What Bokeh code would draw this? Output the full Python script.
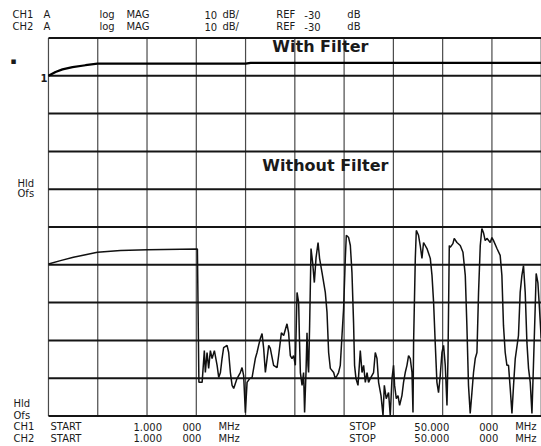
from bokeh.plotting import figure
from bokeh.models import Label, Range1d
from bokeh.embed import file_html
from bokeh.resources import INLINE

# ---------------- data (frequency in MHz, level in dB on the display scale) -------------
freq_ch1 = [1.0, 1.70, 2.39, 3.39, 4.68, 5.87, 7.16, 11.1, 20.6, 21.1, 50.0]
db_ch1 = [-30.0, -29.0, -28.3, -27.7, -27.2, -26.8, -26.8, -26.8, -26.8, -26.6, -26.6]

freq_ch2 = [
    1.0, 2.19, 3.48, 5.87, 8.16, 10.84, 15.81,
    15.96, 16.28, 16.50, 16.60, 16.77, 16.93, 17.10, 17.27, 17.50, 17.77, 17.93, 18.10,
    18.26, 18.42, 18.76, 18.92, 19.09, 19.26, 19.42, 19.75, 20.08, 20.25, 20.41, 20.58,
    20.75, 21.01, 21.25, 21.57, 21.74, 21.90, 22.07, 22.24, 22.40, 22.57, 22.74, 22.90,
    23.06, 23.39, 23.73, 23.89, 24.16, 24.39, 24.72, 24.88, 25.05, 25.22, 25.38, 25.55,
    25.72, 25.88, 25.95, 26.05, 26.22, 26.37, 26.47, 26.61, 26.71, 26.81, 26.87, 26.97,
    27.11, 27.27, 27.44, 27.61, 27.81, 27.96, 28.20, 28.53, 28.70, 28.86, 29.03, 29.36,
    29.52, 29.69, 29.85, 30.02, 30.19, 30.35, 30.52, 30.62, 30.85, 31.02, 31.18, 31.34,
    31.44, 31.58, 31.78, 32.01, 32.18, 32.34, 32.51, 32.68, 32.83, 33.00, 33.33, 33.50,
    33.67, 33.83, 34.07, 34.27, 34.40, 34.59, 34.82, 34.99, 35.16, 35.32, 35.42, 35.59,
    35.76, 35.92, 36.15, 36.31, 36.48, 36.65, 36.81, 36.98, 37.15, 37.25, 37.31, 37.48,
    37.58, 37.80, 37.97, 38.14, 38.30, 38.64, 38.97, 39.14, 39.30, 39.46, 39.63, 39.79,
    39.96, 40.13, 40.29, 40.46, 40.63, 40.73, 40.86, 40.95, 41.22, 41.35, 41.62, 41.95,
    42.22, 42.45, 42.61, 42.77, 42.94, 43.11, 43.27, 43.44, 43.61, 43.77, 43.94, 44.10,
    44.26, 44.43, 44.60, 44.93, 45.10, 45.26, 45.60, 45.92, 46.09, 46.25, 46.42, 46.59,
    46.75, 46.92, 47.09, 47.25, 47.42, 47.74, 47.91, 48.08, 48.24, 48.41, 48.58, 48.74,
    48.91, 49.08, 49.23, 49.40, 49.50, 49.67, 49.83, 50.00,
]
db_ch2 = [
    -79.8, -78.9, -78.0, -76.7, -76.2, -76.0, -75.8,
    -111.1, -111.1, -102.7, -108.5, -103.2, -107.4, -102.7, -104.8, -102.7, -106.6, -109.8, -108.5,
    -104.8, -101.9, -101.3, -103.2, -108.5, -111.9, -112.7, -110.1, -108.5, -107.2, -109.3, -119.1,
    -111.1, -110.1, -109.8, -104.8, -103.2, -101.3, -99.5, -98.2, -102.1, -108.5, -104.8, -101.3,
    -102.1, -106.6, -107.2, -104.0, -98.0, -98.7, -95.6, -98.0, -104.0, -104.8, -104.0, -106.6,
    -87.3, -90.0, -98.7, -108.5, -111.9, -108.5, -119.1, -108.5, -98.0, -106.6, -108.5, -96.1,
    -75.7, -79.4, -84.7, -78.1, -74.1, -78.3, -82.0, -87.3, -92.6, -103.2, -107.4, -108.5,
    -110.1, -109.3, -108.5, -106.6, -98.7, -91.6, -78.3, -72.2, -72.8, -74.9, -82.0, -95.3,
    -106.6, -110.1, -111.9, -102.7, -108.5, -106.6, -111.1, -108.5, -111.1, -110.1, -108.5, -103.2,
    -104.8, -111.1, -114.6, -119.9, -111.9, -115.4, -113.8, -119.9, -110.1, -106.6, -111.9, -115.4,
    -114.6, -117.2, -114.6, -111.1, -108.5, -106.6, -104.0, -104.8, -108.5, -119.1, -100.6, -78.3,
    -70.9, -72.2, -74.9, -78.3, -74.1, -75.7, -78.3, -82.8, -90.0, -100.6, -111.1, -113.8,
    -109.3, -103.2, -101.3, -106.6, -117.2, -104.8, -74.9, -75.4, -74.4, -73.0, -74.1, -74.9,
    -76.7, -82.8, -96.1, -111.9, -119.3, -113.8, -108.5, -104.8, -103.2, -87.3, -74.9, -70.4,
    -71.5, -73.6, -73.0, -74.1, -72.8, -73.6, -75.7, -77.5, -82.8, -96.1, -103.2, -106.6,
    -106.6, -112.7, -119.3, -111.9, -104.8, -98.7, -87.3, -82.8, -80.2, -87.3, -100.6, -107.4,
    -111.1, -119.3, -106.6, -91.6, -82.3, -84.7, -91.6, -99.5,
]

# grid divisions: 10 x 10 (1 - 50 MHz, 10 dB/div, top -20 dB)
x_ticks = [1.0, 5.9, 10.8, 15.7, 20.6, 25.5, 30.4, 35.3, 40.2, 45.1, 50.0]
y_ticks = [-120, -110, -100, -90, -80, -70, -60, -50, -40, -30, -20]

header1 = ["CH1", "A", "log", "MAG", "10", "dB/", "REF", "-30", "dB"]
header2 = ["CH2", "A", "log", "MAG", "10", "dB/", "REF", "-30", "dB"]
footer1 = ["CH1", "START", "1.000", "000", "MHz", "STOP", "50.000", "000", "MHz"]
footer2 = ["CH2", "START", "1.000", "000", "MHz", "STOP", "50.000", "000", "MHz"]

# ---------------- layout helpers (picture pixel -> data position for texts) -------------
def fx(px):
    return 1.0 + (px - 48.0) * 49.0 / 493.0

def fy(py):
    return -20.0 - (py - 37.5) / 3.78

W, H = 541, 446
p = figure(width=W, height=H,
           x_range=Range1d(fx(0), fx(W + 0.3)), y_range=Range1d(fy(H), fy(0)),
           x_axis_location=None, y_axis_location=None,
           toolbar_location=None, output_backend="svg",
           min_border=0)
p.outline_line_color = None
p.background_fill_color = "white"
p.border_fill_color = "white"
p.xgrid.visible = False
p.ygrid.visible = False

x_lo, x_hi = x_ticks[0], x_ticks[-1]
y_lo, y_hi = y_ticks[0], y_ticks[-1]
# vertical grid lines
p.segment(x0=x_ticks, y0=[y_lo] * len(x_ticks), x1=x_ticks, y1=[y_hi] * len(x_ticks),
          line_color="#4a4a4a", line_width=1.2)
# horizontal grid lines
p.segment(x0=[x_lo] * len(y_ticks), y0=y_ticks, x1=[x_hi] * len(y_ticks), y1=y_ticks,
          line_color="#151515", line_width=2)

p.line(freq_ch1, db_ch1, line_color="black", line_width=2.2)
p.line(freq_ch2, db_ch2, line_color="#111111", line_width=1.5)

TXT = "#1a1a1a"

def lab(txt, X, Y, size="10px", bold=False, font="DejaVu Sans"):
    p.add_layout(Label(x=fx(X), y=fy(Y), text=txt, text_font=font, text_font_size=size,
                       text_baseline="middle", text_align="left", text_color=TXT,
                       text_font_style="bold" if bold else "normal"))

head_x = [12, 43, 99, 126, 204, 222, 276, 304, 347]
for t, X in zip(header1, head_x):
    lab(t, X, 14)
for t, X in zip(header2, head_x):
    lab(t, X, 26)

foot_x = [13, 50, 133, 182, 218, 349, 414, 479, 515]
for t, X in zip(footer1, foot_x):
    lab(t, X, 426)
for t, X in zip(footer2, foot_x):
    lab(t, X, 437.5)

lab("Hld", 17, 183)
lab("Ofs", 17, 193)
lab("Hld", 13, 403)
lab("Ofs", 13, 415)
lab("\u25aa", 10, 60, size="9px")
lab("1", 40, 77, size="10px", bold=True)

lab("With Filter", 272, 46, size="16px", bold=True)
lab("Without Filter", 262, 165, size="16px", bold=True)

open("out.html", "w").write(file_html(p, INLINE))
